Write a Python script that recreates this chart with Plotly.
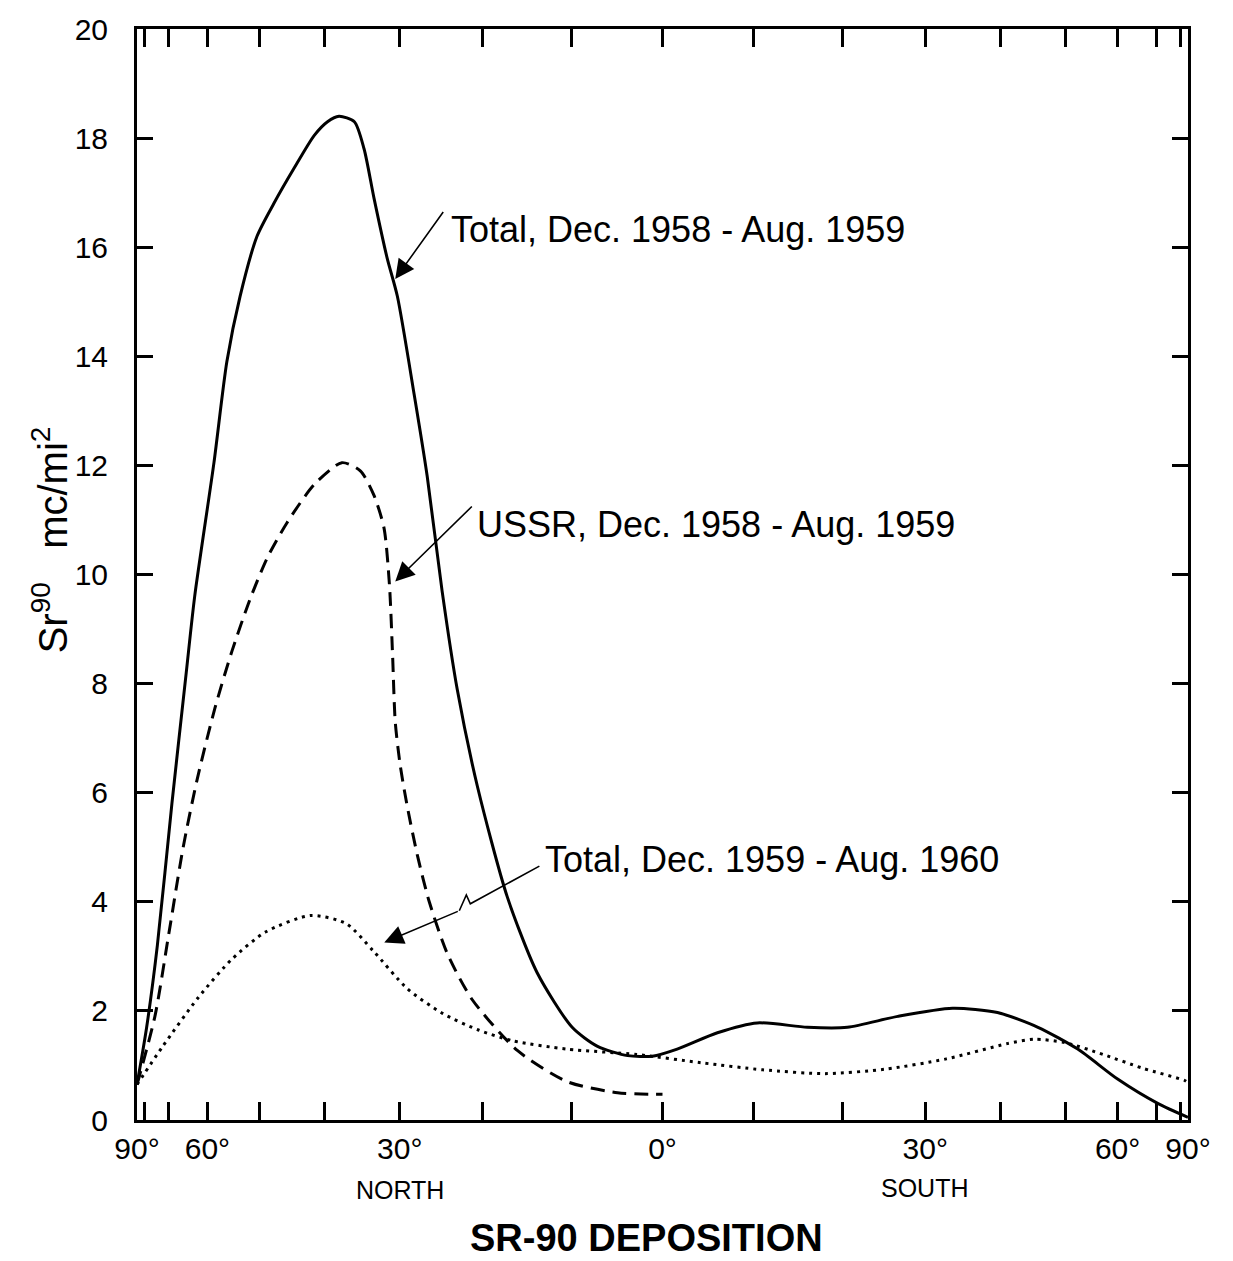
import numpy as np
import plotly.graph_objects as go

# Latitude in degrees (north positive, south negative); values in Sr-90 mc/mi^2
total_5859_lat = [90, 79, 74, 69, 65, 62.9, 58.6, 56, 53.5, 50.5, 47.7, 44.5, 41.5, 39.6, 38,
                  35.9, 34.6, 33.3, 31.6, 30.3, 28.2, 26.6, 24.8, 23, 20.6, 17.2, 13.8, 9.9,
                  7.1, 3.8, 1.1, -1.6, -6, -10.4, -16, -20.6, -26.6, -33.5, -39.6, -45.6,
                  -52.2, -60, -70.6, -90]
total_5859_val = [0.65, 1.7, 3.2, 5.8, 8.2, 9.6, 12.05, 13.9, 15.1, 16.2, 16.8, 17.45, 18.05, 18.3, 18.4,
                  18.3, 17.8, 16.9, 15.8, 15.1, 13.3, 11.8, 9.7, 7.9, 6.1, 4.1, 2.7, 1.7,
                  1.35, 1.18, 1.17, 1.3, 1.6, 1.78, 1.7, 1.7, 1.9, 2.05, 1.97, 1.7,
                  1.3, 0.75, 0.3, 0.05]

ussr_5859_lat = [90, 75, 70, 65.8, 62.3, 58.4, 55, 51.7, 48.8, 45.6, 41.5, 37.6, 35.1, 33.3,
                 32, 31.3, 30.9, 30.57, 29.94, 29.06, 27.8, 26.35, 24.17, 21.2, 16.0, 10.4, 4.9, 0]
ussr_5859_val = [0.65, 1.9, 3.4, 5.0, 6.25, 7.55, 8.6, 9.55, 10.3, 10.95, 11.65, 12.05, 11.9, 11.45,
                 10.85, 9.8, 8.5, 7.3, 6.5, 5.75, 4.85, 4.0, 3.05, 2.2, 1.27, 0.7, 0.5, 0.47]

total_5960_lat = [90, 72, 62, 55, 49, 42, 37, 33.4, 29, 24.7, 20.5, 16.5, 10.5, 2.8, -4.2,
                  -11, -18, -25, -32.7, -41, -45, -50, -57, -66, -84, -90]
total_5960_val = [0.65, 1.35, 2.25, 2.95, 3.45, 3.75, 3.6, 3.1, 2.4, 1.95, 1.65, 1.45, 1.3, 1.2, 1.05,
                  0.92, 0.85, 0.93, 1.12, 1.4, 1.48, 1.42, 1.2, 0.95, 0.72, 0.68]

tick_lats = [90, 80, 70, 60, 50, 40, 30, 20, 10, 0, -10, -20, -30, -40, -50, -60, -70, -80, -90]
labelled = {90: "90°", 60: "60°", 30: "30°", 0: "0°", -30: "30°", -60: "60°", -90: "90°"}
y_ticks = list(range(0, 21, 2))


def xpos(lat):
    # area-true (sine of latitude) scale, north on the left
    return -np.sin(np.radians(np.asarray(lat, dtype=float)))


FONT = "Liberation Sans, Arial, sans-serif"

fig = go.Figure()
fig.add_trace(go.Scatter(x=xpos(total_5859_lat), y=total_5859_val, mode="lines",
                         line=dict(color="black", width=3, shape="spline", smoothing=0.7)))
fig.add_trace(go.Scatter(x=xpos(ussr_5859_lat), y=ussr_5859_val, mode="lines",
                         line=dict(color="black", width=3, dash="14px,8px", shape="spline", smoothing=0.7)))
fig.add_trace(go.Scatter(x=xpos(total_5960_lat), y=total_5960_val, mode="lines",
                         line=dict(color="black", width=3, dash="3px,5px", shape="spline", smoothing=0.7)))

# pixel helpers for annotation placement (plot area: x 137..1188, y 20..1120)
def px2x(px):
    return (px - 665) / 525.0

def px2y(py):
    return (1120 - py) / 55.0

ann_font = dict(family=FONT, size=36, color="black")
labels = [
    ("Total, Dec. 1958 - Aug. 1959", 452, 222),
    ("USSR, Dec. 1958 - Aug. 1959", 478, 520),
    ("Total, Dec. 1959 - Aug. 1960", 546, 857),
]
for txt, lx, ly in labels:
    fig.add_annotation(x=px2x(lx), y=px2y(ly), text=txt, showarrow=False,
                       xanchor="left", yanchor="middle", font=ann_font)

# arrows
arrows = [((447, 203), (398, 272)), ((476, 500), (398, 577)), ((462, 909), (387, 941))]
for (tx, ty), (hx, hy) in arrows:
    fig.add_annotation(x=px2x(hx), y=px2y(hy), ax=px2x(tx), ay=px2y(ty),
                       axref="x", ayref="y", xref="x", yref="y", text="",
                       showarrow=True, arrowhead=2, arrowsize=2.4, arrowwidth=1.6,
                       arrowcolor="black")
# zig-zag lead of the third arrow
zig = [(542, 864), (473, 902), (469, 893), (462, 909)]
path = "M " + " L ".join(f"{px2x(a):.4f},{px2y(b):.4f}" for a, b in zig)
fig.add_shape(type="path", path=path, xref="x", yref="y",
              line=dict(color="black", width=1.6))

# region labels and axis titles
fig.add_annotation(x=xpos(30), y=-0.064, xref="x", yref="paper", text="NORTH",
                   xanchor="center", yanchor="middle",
                   showarrow=False, font=dict(family=FONT, size=25, color="black"))
fig.add_annotation(x=xpos(-30), y=-0.062, xref="x", yref="paper", text="SOUTH",
                   xanchor="center", yanchor="middle",
                   showarrow=False, font=dict(family=FONT, size=25, color="black"))
fig.add_annotation(x=0.485, y=-0.1085, xref="paper", yref="paper", text="<b>SR-90 DEPOSITION</b>",
                   xanchor="center", yanchor="middle",
                   showarrow=False, font=dict(family=FONT, size=38, color="black"))
fig.add_annotation(x=-0.083, y=0.532, xref="paper", yref="paper",
                   text="Sr<sup>90</sup>   mc/mi<sup>2</sup>", textangle=-90,
                   xanchor="center", yanchor="middle",
                   showarrow=False, font=dict(family=FONT, size=40, color="black"))

fig.update_layout(
    width=1233, height=1261,
    margin=dict(l=137, r=45, t=20, b=141),
    paper_bgcolor="white", plot_bgcolor="white",
    showlegend=False,
    xaxis=dict(range=[-1, 1], tickmode="array", tickvals=list(xpos(tick_lats)),
               ticktext=[labelled.get(l, "") for l in tick_lats],
               ticks="inside", ticklen=18, tickwidth=2.5, tickcolor="black",
               showline=True, linewidth=3, linecolor="black", mirror="allticks",
               showgrid=False, zeroline=False,
               tickfont=dict(family=FONT, size=30, color="black")),
    yaxis=dict(range=[0, 20], tickmode="array", tickvals=y_ticks,
               ticks="inside", ticklen=16, tickwidth=2.5, tickcolor="black",
               showline=True, linewidth=3, linecolor="black", mirror="allticks",
               showgrid=False, zeroline=False, ticklabelstandoff=20,
               tickfont=dict(family=FONT, size=30, color="black")),
)

fig.write_html("out.html")
